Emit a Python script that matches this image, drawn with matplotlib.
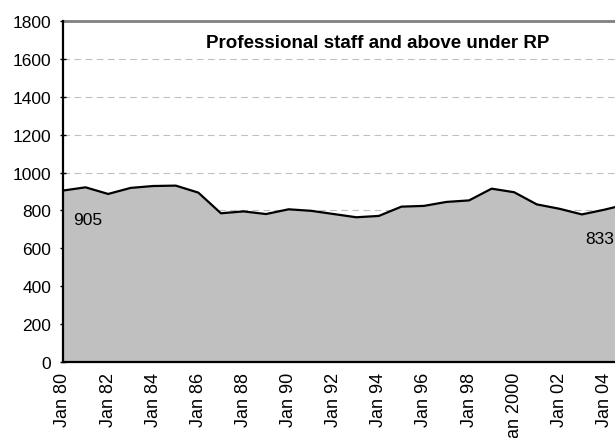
import matplotlib
matplotlib.use("Agg")
import matplotlib.pyplot as plt

plt.rcParams['font.family'] = ['Liberation Sans', 'DejaVu Sans']

# staff numbers, one reading per January
years = list(range(1980, 2006))
staff = [905, 922, 887, 919, 929, 931, 894, 785, 795, 781, 806, 798,
         781, 764, 771, 820, 824, 845, 853, 915, 896, 832, 809, 779,
         804, 833]

tick_years = list(range(1980, 2005, 2))
tick_labels = ["Jan 80", "Jan 82", "Jan 84", "Jan 86", "Jan 88", "Jan 90",
               "Jan 92", "Jan 94", "Jan 96", "Jan 98", "Jan 2000", "Jan 02",
               "Jan 04"]

fig = plt.figure(figsize=(6.15, 4.39), dpi=100)
# the plot runs a little past the right edge of the figure
ax = fig.add_axes([63 / 615, 1 - 363 / 439, 564 / 615, 341 / 439])

ax.fill_between(years, staff, 0, color='#c0c0c0', zorder=2, linewidth=0)
ax.plot(years, staff, color='black', linewidth=1.6, zorder=3)

ax.set_xlim(1980, 2005)
ax.set_ylim(0, 1800)
ax.set_yticks(range(0, 1801, 200))
ax.set_xticks(tick_years)
ax.set_xticklabels(tick_labels, rotation=90)
ax.tick_params(axis='x', length=0, pad=7, labelsize=13)
ax.tick_params(axis='y', direction='inout', length=5, width=1, pad=6, labelsize=12.5)

ax.yaxis.grid(True, linestyle=(0, (6, 4)), color='#c0c0c0', linewidth=0.8, zorder=1)
ax.set_axisbelow(True)

for side in ['left', 'bottom']:
    ax.spines[side].set_linewidth(1.6)
    ax.spines[side].set_color('black')
    ax.spines[side].set_zorder(4)
ax.spines['top'].set_color('#808080')
ax.spines['top'].set_linewidth(2)
ax.spines['right'].set_visible(False)

# first and last values written beside the line
ax.annotate(str(staff[0]), xy=(years[0], staff[0]), xytext=(25, -29),
            textcoords='offset pixels', ha='center', va='center', fontsize=12.5, zorder=5)
ax.annotate(str(staff[-1]), xy=(years[-1], staff[-1]), xytext=(-27, -34),
            textcoords='offset pixels', ha='center', va='center', fontsize=12.5, zorder=5)

ax.text((378 - 63) / 564, 1 - 21 / 341, "Professional staff and above under RP",
        transform=ax.transAxes, ha='center', va='center', fontsize=13.5,
        fontweight='bold')

fig.savefig("out.png", dpi=100)
